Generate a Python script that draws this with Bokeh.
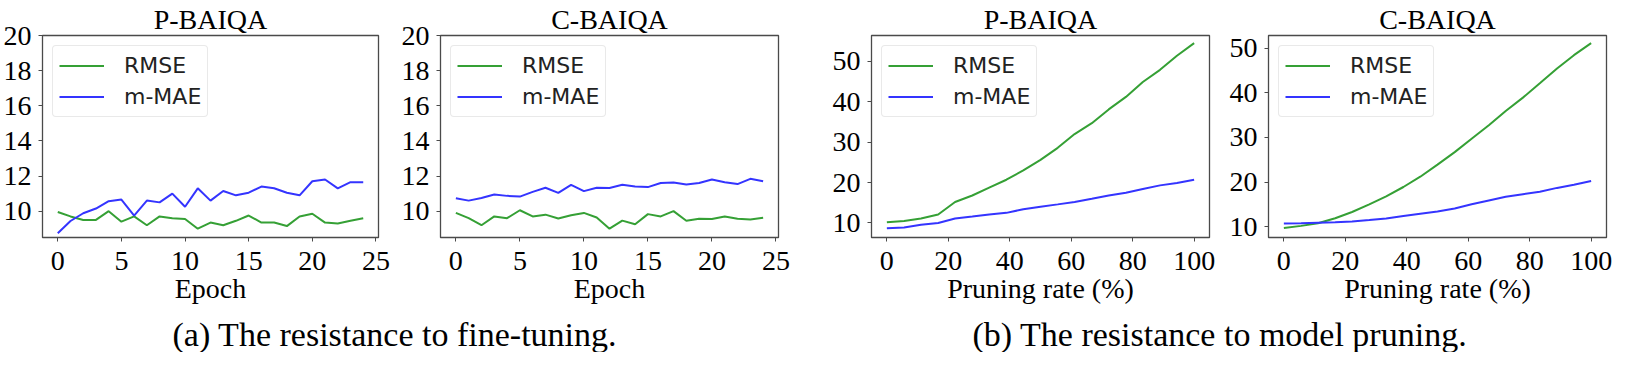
from bokeh.plotting import figure
from bokeh.layouts import column, row
from bokeh.models import Range1d, Legend, LegendItem, FixedTicker
from bokeh.embed import file_html
from bokeh.resources import INLINE

# ---------------- data ----------------
epochs = list(range(25))
ft_p_rmse = [9.95, 9.7, 9.5, 9.5, 10.0, 9.4, 9.7, 9.2, 9.7, 9.6, 9.55, 9.0, 9.35, 9.2, 9.45,
             9.75, 9.35, 9.35, 9.15, 9.7, 9.85, 9.35, 9.3, 9.45, 9.6]
ft_p_mmae = [8.74, 9.44, 9.88, 10.15, 10.57, 10.66, 9.75, 10.6, 10.5, 11.0, 10.25, 11.3, 10.6,
             11.15, 10.9, 11.05, 11.4, 11.3, 11.05, 10.9, 11.7, 11.8, 11.3, 11.65, 11.65]
ft_c_rmse = [9.9, 9.6, 9.2, 9.7, 9.6, 10.05, 9.7, 9.8, 9.58, 9.77, 9.9, 9.64, 9.0, 9.46, 9.25,
             9.83, 9.7, 10.0, 9.45, 9.57, 9.55, 9.7, 9.57, 9.52, 9.62]
ft_c_mmae = [10.73, 10.6, 10.75, 10.95, 10.87, 10.83, 11.1, 11.33, 11.04, 11.5, 11.14, 11.33,
             11.32, 11.5, 11.4, 11.37, 11.6, 11.63, 11.52, 11.6, 11.8, 11.65, 11.54, 11.84, 11.7]

prune_rate = [0, 5.6, 11.1, 16.7, 22.2, 27.8, 33.3, 38.9, 44.4, 50, 55.6, 61.1, 66.7, 72.2,
              77.8, 83.3, 88.9, 94.4, 100]
pr_p_rmse = [10.15, 10.5, 11.1, 12.1, 15.2, 16.8, 18.75, 20.7, 23.0, 25.6, 28.6, 32.0, 34.7,
             38.1, 41.2, 44.9, 47.9, 51.4, 54.5]
pr_p_mmae = [8.7, 8.87, 9.55, 10.0, 11.1, 11.6, 12.1, 12.5, 13.4, 14.0, 14.6, 15.2, 16.0, 16.8,
             17.5, 18.4, 19.3, 19.9, 20.7]
pr_c_rmse = [9.7, 10.2, 10.8, 11.9, 13.3, 15.0, 16.8, 18.9, 21.2, 23.9, 26.7, 29.7, 32.7, 35.9,
             38.9, 42.1, 45.4, 48.4, 51.1]
pr_c_mmae = [10.75, 10.8, 10.9, 11.0, 11.2, 11.5, 11.85, 12.4, 12.9, 13.4, 14.1, 15.05, 15.9,
             16.7, 17.3, 17.85, 18.7, 19.4, 20.25]

titles = ["P-BAIQA", "C-BAIQA", "P-BAIQA", "C-BAIQA"]
series_names = ["RMSE", "m-MAE"]
xlabels = ["Epoch", "Epoch", "Pruning rate (%)", "Pruning rate (%)"]
ft_xticks = [0, 5, 10, 15, 20, 25]
ft_yticks = [10, 12, 14, 16, 18, 20]
pr_xticks = [0, 20, 40, 60, 80, 100]
pr_yticks = [10, 20, 30, 40, 50]
captions = ["(a) The resistance to fine-tuning.", "(b) The resistance to model pruning."]

# ---------------- style ----------------
GREEN = "#35a035"
BLUE = "#3434ff"
SERIF = "Liberation Serif"
SANS = "DejaVu Sans"
FRAME_W = 338
FIG_H = 306


def make_panel(title, x, y_rmse, y_mmae, xr, yr, xticks, yticks, xlabel, bl, br):
    p = figure(width=bl + FRAME_W + br, height=FIG_H, output_backend="svg",
               toolbar_location=None, x_range=Range1d(*xr), y_range=Range1d(*yr),
               min_border_left=bl, min_border_right=br, min_border_top=0,
               min_border_bottom=0, title=title)
    p.title.align = "center"
    p.title.text_font = SERIF
    p.title.text_font_size = "28px"
    p.title.text_font_style = "normal"
    p.title.text_color = "black"
    p.title.standoff = 2
    p.outline_line_color = "#4a4a4a"
    p.outline_line_width = 1.3
    p.grid.visible = False
    r1 = p.line(x, y_rmse, line_color=GREEN, line_width=2)
    r2 = p.line(x, y_mmae, line_color=BLUE, line_width=2)
    p.xaxis.ticker = FixedTicker(ticks=xticks)
    p.yaxis.ticker = FixedTicker(ticks=yticks)
    p.axis.minor_tick_line_color = None
    p.axis.major_tick_in = 0
    p.axis.major_tick_out = 4
    p.axis.major_tick_line_color = "#4a4a4a"
    p.axis.axis_line_color = "#4a4a4a"
    p.axis.major_label_text_font = SERIF
    p.axis.major_label_text_font_size = "28px"
    p.axis.major_label_text_color = "black"
    p.yaxis.major_label_standoff = 7
    p.xaxis.major_label_standoff = 10
    p.xaxis.axis_label = xlabel
    p.xaxis.axis_label_text_font = SERIF
    p.xaxis.axis_label_text_font_size = "28px"
    p.xaxis.axis_label_text_font_style = "normal"
    p.xaxis.axis_label_text_color = "black"
    p.xaxis.axis_label_standoff = 0

    legend = Legend(items=[LegendItem(label=series_names[0], renderers=[r1]),
                           LegendItem(label=series_names[1], renderers=[r2])],
                    location="top_left")
    legend.label_text_font = SANS
    legend.label_text_font_size = "22px"
    legend.label_text_color = "#222222"
    legend.glyph_width = 45
    legend.glyph_height = 27
    legend.label_height = 27
    legend.spacing = 4
    legend.padding = 6
    legend.margin = 10
    legend.label_standoff = 20
    legend.border_line_color = "#d4d4d4"
    legend.border_line_width = 1
    legend.background_fill_alpha = 0.85
    if "border_radius" in Legend.properties():
        legend.border_radius = 4
    p.add_layout(legend)
    return p


p1 = make_panel(titles[0], epochs, ft_p_rmse, ft_p_mmae, (-1.2, 25.2), (8.5, 20.0),
                ft_xticks, ft_yticks, xlabels[0], 40, 20)
p2 = make_panel(titles[1], epochs, ft_c_rmse, ft_c_mmae, (-1.2, 25.2), (8.5, 20.0),
                ft_xticks, ft_yticks, xlabels[1], 42, 51)
p3 = make_panel(titles[2], prune_rate, pr_p_rmse, pr_p_mmae, (-5, 105), (6.4, 56.4),
                pr_xticks, pr_yticks, xlabels[2], 42, 17)
p4 = make_panel(titles[3], prune_rate, pr_c_rmse, pr_c_mmae, (-5, 105), (7.6, 52.8),
                pr_xticks, pr_yticks, xlabels[3], 42, 6)


def make_caption(text, width, offset):
    c = figure(width=width, height=46, output_backend="svg", toolbar_location=None,
               x_range=Range1d(0, 1), y_range=Range1d(0, 1),
               x_axis_type=None, y_axis_type=None, title=text, title_location="below",
               min_border=0, outline_line_color=None)
    c.grid.visible = False
    c.title.align = "left"
    c.title.offset = offset
    c.title.standoff = 0
    c.title.text_font = SERIF
    c.title.text_font_size = "34px"
    c.title.text_font_style = "normal"
    c.title.text_color = "black"
    return c


capA = make_caption(captions[0], 796, 172)
capB = make_caption(captions[1], 816, 176)

layout = column(row(p1, p2, p3, p4), row(capA, capB))
open("out.html", "w").write(file_html(layout, INLINE))
